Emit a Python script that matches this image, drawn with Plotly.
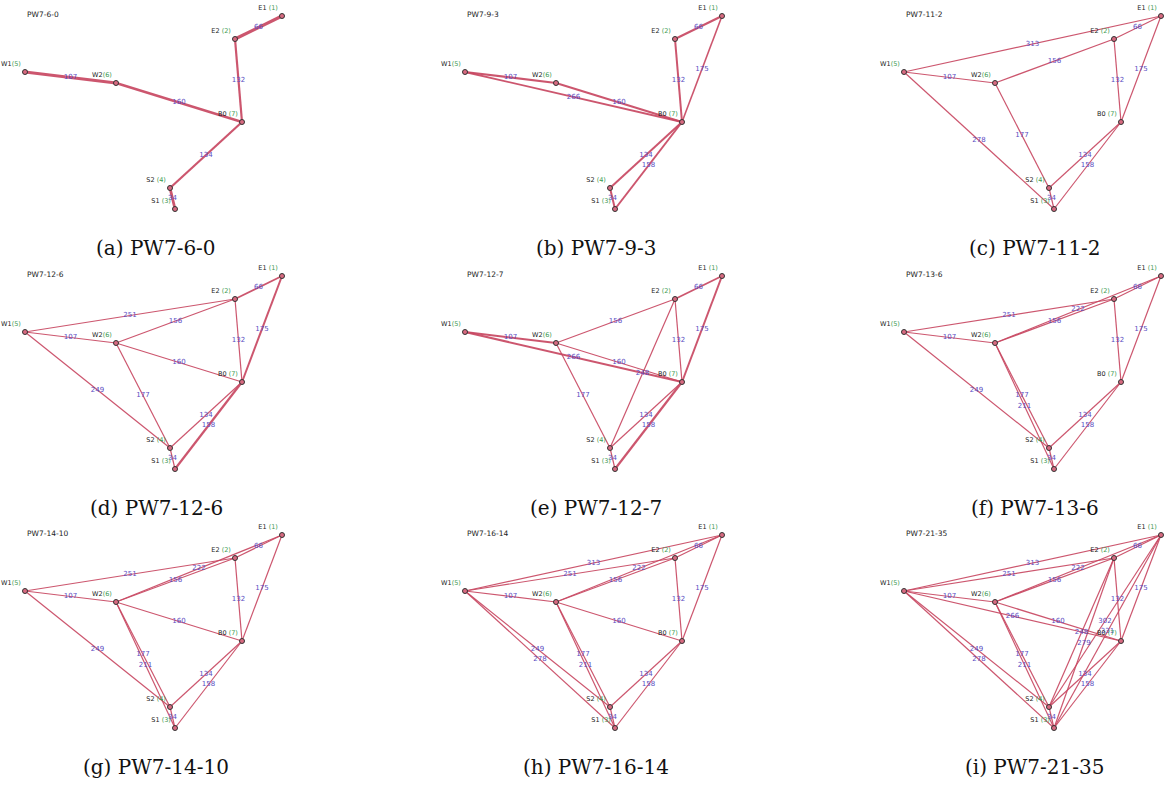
import plotly.graph_objects as go

# ---------------- data ----------------
node_names = ["E1", "E2", "S1", "S2", "W1", "W2", "B0"]
node_ids = [1, 2, 3, 4, 5, 6, 7]
# network layout coordinates (same layout in every panel)
node_x = [282, 235, 175, 170, 25, 116, 242]
node_y = [16, 39, 209, 188, 72, 83, 122]

edge_from = ["E1", "E2", "W1", "W2", "B0", "S2", "E1", "W1", "B0", "W1", "W2",
             "W2", "W1", "W1", "W1", "W2", "W2", "E2", "E2", "E1", "E1"]
edge_to = ["E2", "B0", "W2", "B0", "S2", "S1", "B0", "B0", "S1", "E1", "E2",
           "S2", "S1", "E2", "S2", "E1", "S1", "S2", "S1", "S2", "S1"]
edge_len = [66, 132, 107, 160, 134, 34, 175, 266, 158, 313, 156,
            177, 278, 251, 249, 222, 211, 248, 279, 302, 331]

panel_titles = ["PW7-6-0", "PW7-9-3", "PW7-11-2", "PW7-12-6", "PW7-12-7",
                "PW7-13-6", "PW7-14-10", "PW7-16-14", "PW7-21-35"]
captions = ["(a) PW7-6-0", "(b) PW7-9-3", "(c) PW7-11-2", "(d) PW7-12-6",
            "(e) PW7-12-7", "(f) PW7-13-6", "(g) PW7-14-10", "(h) PW7-16-14",
            "(i) PW7-21-35"]
panel_edges = [
    [0, 1, 2, 3, 4, 5],
    [0, 1, 2, 3, 4, 5, 6, 7, 8],
    [0, 1, 2, 4, 5, 6, 8, 9, 10, 11, 12],
    [0, 1, 2, 3, 4, 5, 6, 8, 13, 10, 11, 14],
    [0, 1, 2, 3, 4, 5, 6, 7, 8, 10, 11, 17],
    [0, 1, 2, 4, 5, 6, 8, 13, 10, 11, 14, 15, 16],
    [0, 1, 2, 3, 4, 5, 6, 8, 13, 10, 11, 14, 15, 16],
    [0, 1, 2, 3, 4, 5, 6, 8, 13, 10, 11, 14, 15, 16, 9, 12],
    [0, 1, 2, 3, 4, 5, 6, 8, 13, 10, 11, 14, 15, 16, 9, 12, 7, 17, 18, 19, 20],
]

# ---------------- style ----------------
W, H = 1168, 787
col_off = [0, 440, 879]
row_off = [0, 260, 519]
PW, PH = 292, 232
EDGE_COLOR = "rgba(200,72,98,0.92)"
LABEL_COLOR = "#5a4cc2"
GREEN = "#3b9a52"
thick = {
    0: {0: 3.2, 1: 2.2, 2: 3.2, 3: 2.4, 4: 2.2, 5: 2.8},
    1: {0: 2.2, 1: 2.0, 2: 2.2, 3: 2.0, 4: 2.0, 5: 2.0, 6: 1.6, 7: 1.8, 8: 2.0},
    3: {0: 1.8, 6: 2.0, 8: 2.2},
    4: {0: 1.8, 2: 2.0, 7: 2.0, 6: 2.0, 8: 2.2},
}
BASE_W = 1.2

pos = {n: (x, y) for n, x, y in zip(node_names, node_x, node_y)}

fig = go.Figure()
layout_axes = {}
annotations = []

for p in range(9):
    r, c = divmod(p, 3)
    ax_id = "" if p == 0 else str(p + 1)
    xa, ya = "x" + ax_id, "y" + ax_id
    px0 = col_off[c]
    px1 = min(col_off[c] + PW, W)
    py0 = row_off[r]
    py1 = row_off[r] + PH
    # axis ranges in local panel pixel units (1 unit = 1 pixel)
    layout_axes["xaxis" + ax_id] = dict(domain=[px0 / W, px1 / W],
                                        range=[0, px1 - px0],
                                        visible=False, fixedrange=True)
    layout_axes["yaxis" + ax_id] = dict(domain=[1 - py1 / H, 1 - py0 / H],
                                        range=[py1 - py0, 0],
                                        visible=False, fixedrange=True)

    # edges
    mx, my, mt = [], [], []
    for e in panel_edges[p]:
        a, b = edge_from[e], edge_to[e]
        (xa_, ya_), (xb_, yb_) = pos[a], pos[b]
        w = thick.get(p, {}).get(e, BASE_W)
        fig.add_trace(go.Scatter(x=[xa_, xb_], y=[ya_, yb_], mode="lines",
                                 line=dict(color=EDGE_COLOR, width=w),
                                 xaxis=xa, yaxis=ya, showlegend=False, hoverinfo="skip",
                                 cliponaxis=False))
        mx.append((xa_ + xb_) / 2)
        my.append((ya_ + yb_) / 2)
        mt.append(str(edge_len[e]))
    fig.add_trace(go.Scatter(x=mx, y=my, text=mt, mode="text",
                             textfont=dict(family="DejaVu Sans", size=7, color=LABEL_COLOR),
                             xaxis=xa, yaxis=ya, showlegend=False, hoverinfo="skip",
                             cliponaxis=False))

    # nodes
    labels = []
    for n, i in zip(node_names, node_ids):
        sep = "" if n.startswith("W") else " "
        labels.append(f"{n}{sep}<span style='color:{GREEN}'>({i})</span>")
    fig.add_trace(go.Scatter(x=node_x, y=node_y, mode="markers+text", text=labels,
                             textposition="top left",
                             textfont=dict(family="DejaVu Sans", size=6.5, color="#222"),
                             marker=dict(size=5, color="#d86a80",
                                         line=dict(color="#333333", width=1)),
                             xaxis=xa, yaxis=ya, showlegend=False, hoverinfo="skip",
                             cliponaxis=False))

    annotations.append(dict(x=25, y=14, xref=xa, yref=ya, text=panel_titles[p],
                            showarrow=False, xanchor="left", yanchor="middle",
                            font=dict(family="DejaVu Sans", size=7.5, color="#222")))
    cx = (col_off[c] + 156) / W
    cy = 1 - (row_off[r] + 248) / H
    annotations.append(dict(x=cx, y=cy, xref="paper", yref="paper", text=captions[p],
                            showarrow=False, xanchor="center", yanchor="middle",
                            font=dict(family="DejaVu Serif", size=20, color="#111")))

fig.update_layout(width=W, height=H, margin=dict(l=0, r=0, t=0, b=0),
                  paper_bgcolor="white", plot_bgcolor="white",
                  annotations=annotations, **layout_axes)
fig.write_html("out.html", config={"displayModeBar": False},
               post_script="document.body.style.margin='0px';"
                           "document.body.style.padding='0px';")
